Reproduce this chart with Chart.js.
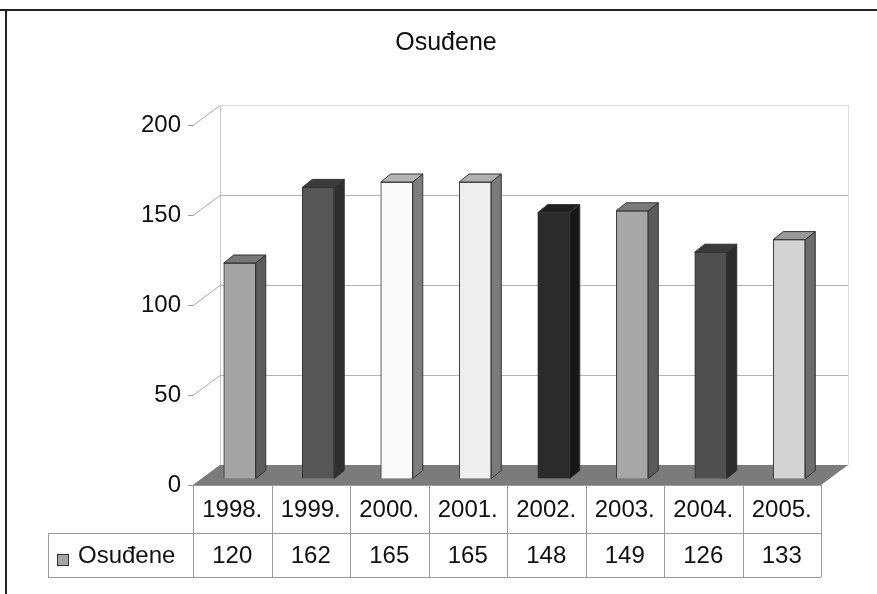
<!DOCTYPE html>
<html lang="hr">
<head>
  <meta charset="UTF-8" />
  <title>Osuđene</title>
  <script src="https://cdn.jsdelivr.net/npm/chart.js"></script>
  <style>
    html, body { margin: 0; padding: 0; background: #fff; }
    #wrap { width: 877px; height: 594px; }
  </style>
</head>
<body>
  <div id="wrap"><canvas id="chart" width="877" height="594"></canvas></div>

  <script>
    // data
    const years = ['1998.', '1999.', '2000.', '2001.', '2002.', '2003.', '2004.', '2005.'];
    const osudene = [120, 162, 165, 165, 148, 149, 126, 133];
    const seriesName = 'Osuđene';
    const yMax = 200;
    const yStep = 50;

    // bar shades (front, side, top)
    const frontCol = ['#a4a4a4', '#565656', '#f9f9f9', '#eeeeee', '#2b2b2b', '#a7a7a7', '#4f4f4f', '#d3d3d3'];
    const sideCol  = ['#5c5c5c', '#2e2e2e', '#7e7e7e', '#7a7a7a', '#161616', '#5a5a5a', '#2b2b2b', '#6c6c6c'];
    const topCol   = ['#777777', '#3c3c3c', '#b5b5b5', '#b0b0b0', '#202020', '#7a7a7a', '#3a3a3a', '#9a9a9a'];

    const FONT = 'Arial, "Liberation Sans", sans-serif';
    const DX = 27, DY = -20;   // depth of the walls
    const BX = 7.5, BY = -6;   // bars sit a bit inside the box
    const BDX = 10, BDY = -8;  // depth of a bar

    function poly(ctx, pts, fill, stroke) {
      ctx.beginPath();
      ctx.moveTo(pts[0][0], pts[0][1]);
      for (let i = 1; i < pts.length; i++) ctx.lineTo(pts[i][0], pts[i][1]);
      ctx.closePath();
      if (fill) { ctx.fillStyle = fill; ctx.fill(); }
      if (stroke) { ctx.strokeStyle = stroke; ctx.lineWidth = 1; ctx.stroke(); }
    }

    function line(ctx, x1, y1, x2, y2, color, w) {
      ctx.beginPath();
      ctx.moveTo(x1, y1);
      ctx.lineTo(x2, y2);
      ctx.strokeStyle = color;
      ctx.lineWidth = w || 1;
      ctx.stroke();
    }

    const box3d = {
      id: 'box3d',
      beforeDraw(chart) {
        const ctx = chart.ctx;
        ctx.save();
        ctx.fillStyle = '#fff';
        ctx.fillRect(0, 0, chart.width, chart.height);
        ctx.restore();
      },
      beforeDatasetsDraw(chart) {
        const ctx = chart.ctx;
        const a = chart.chartArea;
        const ys = chart.scales.y;
        ctx.save();
        // left wall and back wall
        poly(ctx, [[a.left, a.top], [a.left + DX, a.top + DY], [a.left + DX, a.bottom + DY], [a.left, a.bottom]], '#fff', null);
        ctx.fillStyle = '#fff';
        ctx.fillRect(a.left + DX, a.top + DY, a.right - a.left, a.bottom - a.top);
        line(ctx, a.left + DX + 0.5, a.top + DY, a.left + DX + 0.5, a.bottom + DY, '#c8c8c8');
        line(ctx, a.right + DX + 0.5, a.top + DY, a.right + DX + 0.5, a.bottom + DY, '#dddddd');
        for (let v = 0; v <= yMax; v += yStep) {
          const p = Math.round(ys.getPixelForValue(v)) + 0.5;
          line(ctx, a.left, p, a.left + DX, p + DY, '#a8a8a8');
          line(ctx, a.left + DX, p + DY, a.right + DX, p + DY, v === yMax ? '#d8d8d8' : '#b4b4b4');
        }
        // floor
        poly(ctx, [[a.left, a.bottom], [a.right, a.bottom], [a.right + DX, a.bottom + DY], [a.left + DX, a.bottom + DY]], '#7b7b7b', null);
        ctx.restore();
        ctx.save();
        ctx.translate(BX, BY);
      },
      afterDatasetsDraw(chart) {
        const ctx = chart.ctx;
        const meta = chart.getDatasetMeta(0);
        meta.data.forEach((el, i) => {
          const p = el.getProps(['x', 'y', 'base', 'width'], true);
          const l = p.x - p.width / 2, r = p.x + p.width / 2;
          poly(ctx, [[r, p.y], [r + BDX, p.y + BDY], [r + BDX, p.base + BDY], [r, p.base]], sideCol[i], '#333');
          poly(ctx, [[l, p.y], [l + BDX, p.y + BDY], [r + BDX, p.y + BDY], [r, p.y]], topCol[i], '#333');
        });
        ctx.restore();
      },
      afterDraw(chart) {
        const ctx = chart.ctx;
        const a = chart.chartArea;
        const xs = chart.scales.x;
        const half = (xs.getPixelForValue(1) - xs.getPixelForValue(0)) / 2;
        const r1 = a.bottom, r2 = 533, r3 = 577, legL = 48;
        ctx.save();
        // title
        ctx.font = '25px ' + FONT;
        ctx.fillStyle = '#111';
        ctx.textAlign = 'center';
        ctx.textBaseline = 'middle';
        ctx.fillText(seriesName, 446, 43);
        // data table
        const g = '#9a9a9a';
        line(ctx, a.left, r1 + 0.5, a.right, r1 + 0.5, g);
        line(ctx, legL, r2 + 0.5, a.right, r2 + 0.5, g);
        line(ctx, legL, r3 + 0.5, a.right, r3 + 0.5, g);
        line(ctx, legL + 0.5, r2, legL + 0.5, r3, g);
        line(ctx, a.left + 0.5, r1, a.left + 0.5, r3, g);
        years.forEach((yr, i) => {
          const xr = Math.round(xs.getPixelForValue(i) + half) + 0.5;
          line(ctx, xr, r1, xr, r3, g);
        });
        ctx.font = '24px ' + FONT;
        ctx.fillStyle = '#111';
        years.forEach((yr, i) => {
          const cx = xs.getPixelForValue(i);
          ctx.fillText(yr, cx, (r1 + r2) / 2 + 1);
          ctx.fillText(String(osudene[i]), cx, (r2 + r3) / 2 + 1);
        });
        // legend key
        ctx.fillStyle = frontCol[0];
        ctx.fillRect(57.5, 554.5, 11, 11);
        ctx.strokeStyle = '#333';
        ctx.lineWidth = 1;
        ctx.strokeRect(57.5, 554.5, 11, 11);
        ctx.fillStyle = '#111';
        ctx.textAlign = 'left';
        ctx.fillText(seriesName, 78, (r2 + r3) / 2 + 1);
        // outer frame
        line(ctx, 0, 10, chart.width, 10, '#222', 2);
        line(ctx, 6, 9, 6, chart.height, '#222', 2);
        ctx.restore();
      }
    };

    new Chart(document.getElementById('chart'), {
      type: 'bar',
      data: {
        labels: years,
        datasets: [{
          label: seriesName,
          data: osudene,
          backgroundColor: frontCol,
          borderColor: '#333',
          borderWidth: 1,
          barThickness: 32,
          clip: false
        }]
      },
      options: {
        responsive: false,
        animation: false,
        layout: { padding: { left: 0, right: 56, top: 125, bottom: 109 } },
        plugins: {
          legend: { display: false },
          tooltip: { enabled: false },
          title: { display: false }
        },
        scales: {
          x: { display: false, offset: true },
          y: {
            min: 0,
            max: yMax,
            ticks: { stepSize: yStep, padding: 7, color: '#111', font: { family: FONT, size: 24 } },
            grid: { drawOnChartArea: false, drawTicks: true, tickLength: 5, color: '#999' },
            border: { display: true, color: '#999' },
            afterFit(scale) { scale.width = 193; }
          }
        }
      },
      plugins: [box3d]
    });
  </script>
</body>
</html>
